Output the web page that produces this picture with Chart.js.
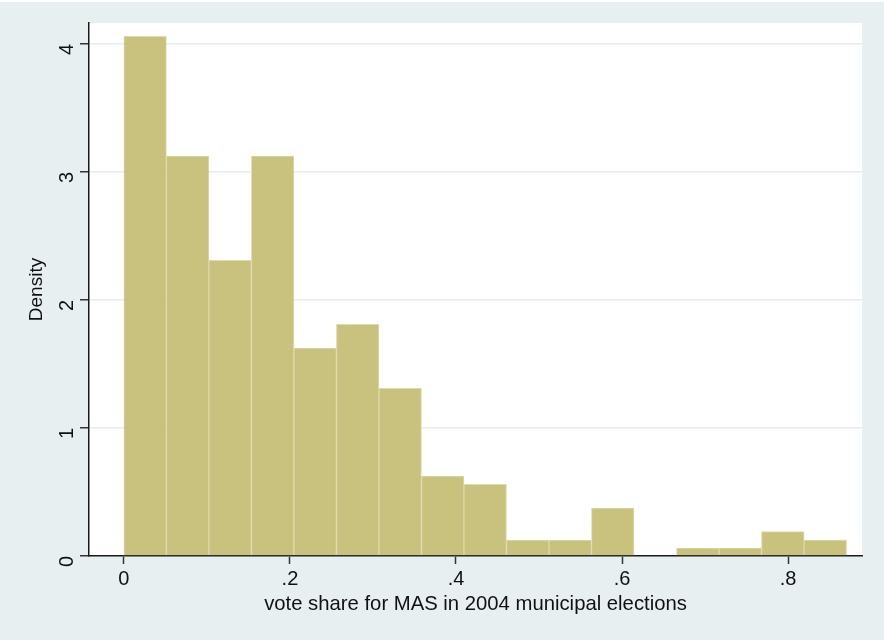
<!DOCTYPE html>
<html>
<head>
<meta charset="utf-8">
<script src="https://cdn.jsdelivr.net/npm/chart.js@4.4.0/dist/chart.umd.min.js"></script>
<style>
  html, body { margin: 0; padding: 0; background: #ffffff; }
  #wrap { position: absolute; left: 0; top: 2px; width: 884px; height: 638px; background: #e8eff1; }
</style>
</head>
<body>
<div id="wrap"><canvas id="grafico" width="884" height="638"></canvas></div>
<script>
// bin edges of the histogram (vote share)
const binEdges = [0, 0.0512, 0.1024, 0.1536, 0.2048, 0.256, 0.3072, 0.3584, 0.4096,
                  0.4608, 0.512, 0.5632, 0.6144, 0.6656, 0.7168, 0.768, 0.8192, 0.8704];
// density of each bin
const density = [4.06, 3.125, 2.31, 3.125, 1.625, 1.81, 1.31, 0.625, 0.56,
                 0.125, 0.125, 0.375, 0, 0.0625, 0.0625, 0.19, 0.125];
const xTicks = [0, 0.2, 0.4, 0.6, 0.8];
const yTicks = [0, 1, 2, 3, 4];
const xTitle = 'vote share for MAS in 2004 municipal elections';
const yTitle = 'Density';

const puntos = density.map((d, i) => ({ x: (binEdges[i] + binEdges[i + 1]) / 2, y: d }));

const fuente = "'Liberation Sans', Arial, Helvetica, sans-serif";

// fondo blanco del area del grafico
const fondoArea = {
  id: 'fondoArea',
  beforeDraw(chart) {
    const { ctx, chartArea } = chart;
    ctx.save();
    ctx.fillStyle = '#ffffff';
    ctx.fillRect(chartArea.left, chartArea.top, chartArea.right - chartArea.left, chartArea.bottom - chartArea.top);
    ctx.restore();
  }
};

const fmt = v => (v === 0 ? '0' : String(v).replace(/^0\./, '.'));

new Chart(document.getElementById('grafico').getContext('2d'), {
  type: 'bar',
  data: {
    datasets: [{
      data: puntos,
      backgroundColor: 'rgb(201,194,127)',
      borderColor: 'rgb(222,217,170)',
      borderWidth: 1,
      barPercentage: 1,
      categoryPercentage: 1
    }]
  },
  options: {
    responsive: false,
    animation: false,
    layout: { padding: { left: 0, right: 22, top: 21, bottom: 0 } },
    plugins: { legend: { display: false }, tooltip: { enabled: false } },
    scales: {
      x: {
        type: 'linear',
        offset: false,
        min: -0.042,
        max: 0.889,
        afterBuildTicks: s => { s.ticks = xTicks.map(v => ({ value: v })); },
        afterFit: s => { s.height = 638 - 554; s.paddingLeft = 0; s.paddingRight = 0; },
        border: { display: true, color: '#1a1a1a', width: 1.5 },
        grid: { offset: false, drawOnChartArea: false, drawTicks: true, tickLength: 8, tickColor: '#333', tickWidth: 1.5 },
        ticks: { color: '#111', font: { family: fuente, size: 20 }, padding: 3, maxRotation: 0, callback: v => fmt(v) },
        title: { display: true, text: xTitle, color: '#111', font: { family: fuente, size: 20.3 }, padding: { top: 0, bottom: 23 } }
      },
      y: {
        min: 0,
        max: 4.164,
        afterBuildTicks: s => { s.ticks = yTicks.map(v => ({ value: v })); },
        afterFit: s => { s.width = 89; s.paddingTop = 0; s.paddingBottom = 0; },
        border: { display: true, color: '#1a1a1a', width: 1.5 },
        grid: { color: '#e6edf1', lineWidth: 1.5, drawTicks: true, tickLength: 9, tickColor: '#333', tickWidth: 1.5 },
        ticks: { color: '#111', font: { family: fuente, size: 20 }, padding: 13, minRotation: 90, maxRotation: 90, callback: v => fmt(v) },
        title: { display: true, text: yTitle, color: '#111', font: { family: fuente, size: 19 }, padding: { top: 25, bottom: 0 } }
      }
    }
  },
  plugins: [fondoArea]
});
</script>
</body>
</html>
